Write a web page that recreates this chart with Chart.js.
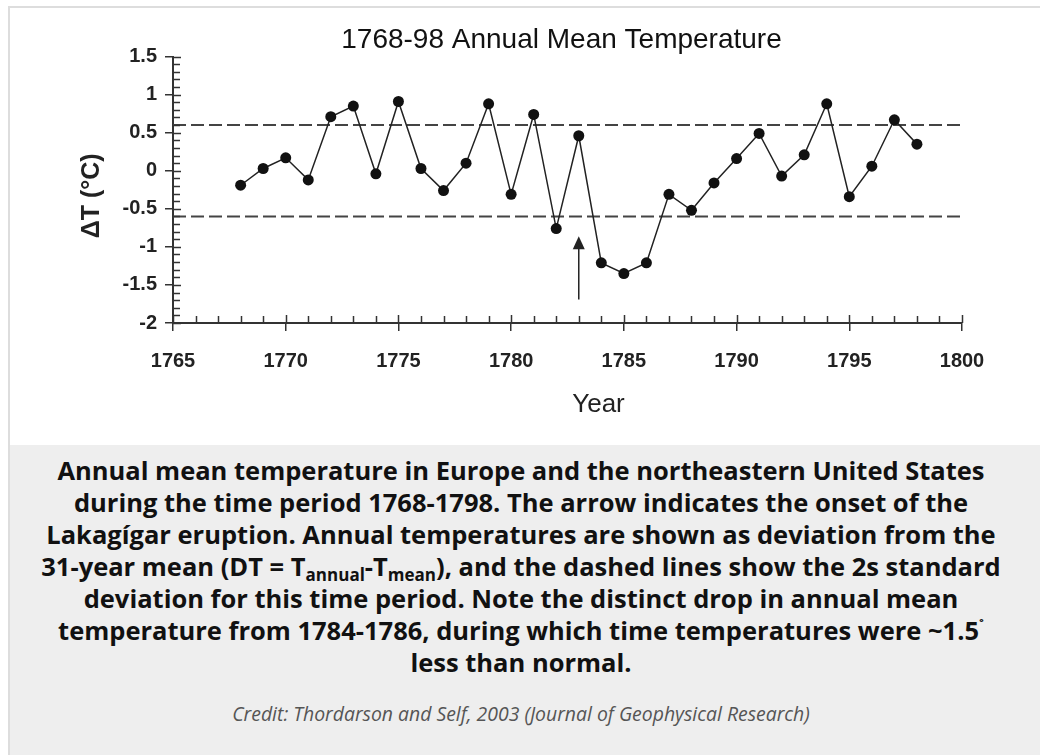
<!DOCTYPE html>
<html>
<head>
<meta charset="utf-8">
<title>1768-98 Annual Mean Temperature</title>
<script src="https://cdn.jsdelivr.net/npm/chart.js@4.4.0/dist/chart.umd.min.js"></script>
<style>
  html, body { margin: 0; padding: 0; background: #fff; overflow: hidden; }
  body { width: 1040px; height: 755px; position: relative; }
  #figure { position: absolute; left: 8px; top: 6px; width: 1100px; height: 800px;
            border-left: 2px solid #dddddd; border-top: 2px solid #dddddd; }
  #tempChart { position: absolute; left: 0; top: 0; }
  #caption { position: absolute; left: 0; top: 437px; width: 1100px; height: 400px; background: #eeeeee; }
  #captionText { position: absolute; left: 10px; width: 1002px; top: 9px; text-align: center;
                 font-family: "Open Sans", sans-serif; font-weight: bold; font-size: 25.5px;
                 line-height: 32px; color: #111; }
  #captionText sub { font-size: 17px; line-height: 0; vertical-align: -5px; }
  #captionText sup { font-size: 15px; line-height: 0; vertical-align: 9px; }
  #credit { position: absolute; left: 10px; width: 1002px; top: 255px; text-align: center;
            font-family: "Open Sans", sans-serif; font-style: italic; font-size: 19.4px; color: #555; }
</style>
</head>
<body>
<div id="figure">
  <canvas id="tempChart" width="1030" height="437"></canvas>
  <div id="caption">
    <div id="captionText">
      Annual mean temperature in Europe and the northeastern United States<br>
      during the time period 1768-1798. The arrow indicates the onset of the<br>
      Lakagígar eruption. Annual temperatures are shown as deviation from the<br>
      31-year mean (DT = T<sub>annual</sub>-T<sub>mean</sub>), and the dashed lines show the 2s standard<br>
      deviation for this time period. Note the distinct drop in annual mean<br>
      temperature from 1784-1786, during which time temperatures were ~1.5<sup>˚</sup><br>
      less than normal.
    </div>
    <div id="credit">Credit: Thordarson and Self, 2003 (Journal of Geophysical Research)</div>
  </div>
</div>
<script>
// data
const years = [1768, 1769, 1770, 1771, 1772, 1773, 1774, 1775, 1776, 1777,
               1778, 1779, 1780, 1781, 1782, 1783, 1784, 1785, 1786, 1787,
               1788, 1789, 1790, 1791, 1792, 1793, 1794, 1795, 1796, 1797, 1798];
const deltaT = [-0.19, 0.03, 0.17, -0.12, 0.71, 0.85, -0.04, 0.91, 0.03, -0.26,
                0.10, 0.88, -0.31, 0.74, -0.76, 0.46, -1.21, -1.35, -1.21, -0.31,
                -0.52, -0.16, 0.16, 0.49, -0.07, 0.21, 0.88, -0.34, 0.06, 0.67, 0.35];

// 2 sigma lines
const sigmaLevels = [0.6, -0.6];
const sigmaSpan = [1765, 1800];

// eruption arrow
const arrowYear = 1783;
const arrowFrom = -1.69;
const arrowTo = -0.86;

const xTickValues = [1765, 1770, 1775, 1780, 1785, 1790, 1795, 1800];
const xTickLabels = ["1765", "1770", "1775", "1780", "1785", "1790", "1795", "1800"];
const yTickValues = [-2, -1.5, -1, -0.5, 0, 0.5, 1, 1.5];
const yTickLabels = ["-2", "-1.5", "-1", "-0.5", "0", "0.5", "1", "1.5"];

const fontFamily = '"Liberation Sans", Arial, Helvetica, sans-serif';
const ink = "#222";

Chart.defaults.font.family = fontFamily;
Chart.defaults.color = ink;

// inner tick marks, arrow, title and axis titles
const axisDecor = {
    id: "axisDecor",
    afterDraw(chart) {
        const { ctx, chartArea, scales } = chart;
        const x = scales.x, y = scales.y;
        ctx.save();
        ctx.strokeStyle = "#333";
        ctx.lineWidth = 1.5;

        for (let i = -20; i <= 15; i++) {
            const py = Math.round(y.getPixelForValue(i / 10)) + 0.5;
            const len = i % 5 === 0 ? 8 : 7;
            ctx.beginPath();
            ctx.moveTo(chartArea.left, py);
            ctx.lineTo(chartArea.left + len, py);
            ctx.stroke();
        }
        for (let yr = sigmaSpan[0]; yr <= sigmaSpan[1]; yr++) {
            const px = Math.round(x.getPixelForValue(yr)) + 0.5;
            const len = yr % 5 === 0 ? 8 : 7;
            ctx.beginPath();
            ctx.moveTo(px, chartArea.bottom);
            ctx.lineTo(px, chartArea.bottom - len);
            ctx.stroke();
        }

        // arrow
        const ax = x.getPixelForValue(arrowYear);
        const aBase = y.getPixelForValue(arrowFrom);
        const aTip = y.getPixelForValue(arrowTo);
        ctx.strokeStyle = ink;
        ctx.fillStyle = ink;
        ctx.lineWidth = 1.5;
        ctx.beginPath();
        ctx.moveTo(ax, aBase);
        ctx.lineTo(ax, aTip + 10);
        ctx.stroke();
        ctx.beginPath();
        ctx.moveTo(ax, aTip);
        ctx.lineTo(ax - 6, aTip + 13);
        ctx.lineTo(ax + 6, aTip + 13);
        ctx.closePath();
        ctx.fill();

        // titles
        ctx.fillStyle = "#111";
        ctx.textAlign = "center";
        ctx.textBaseline = "middle";
        ctx.font = "28px " + fontFamily;
        ctx.fillText("1768-98 Annual Mean Temperature", (chartArea.left + chartArea.right) / 2 - 6, 32);

        ctx.fillStyle = ink;
        ctx.font = "26px " + fontFamily;
        ctx.fillText("Year", (chartArea.left + chartArea.right) / 2 + 31, chartArea.bottom + 82);

        ctx.translate(chartArea.left - 81, (chartArea.top + chartArea.bottom) / 2 + 6);
        ctx.rotate(-Math.PI / 2);
        ctx.font = "bold 25px " + fontFamily;
        ctx.fillText("\u0394T (\u00B0C)", 0, 0);
        ctx.restore();
    }
};

const mainSeries = years.map((yr, i) => ({ x: yr, y: deltaT[i] }));
const sigmaSets = sigmaLevels.map(level => ({
    data: sigmaSpan.map(yr => ({ x: yr, y: level })),
    borderColor: "#444",
    borderWidth: 2,
    borderDash: [13, 5],
    pointRadius: 0,
    fill: false
}));

new Chart(document.getElementById("tempChart"), {
    type: "line",
    data: {
        datasets: [
            {
                data: mainSeries,
                borderColor: ink,
                borderWidth: 1.5,
                pointRadius: 5.5,
                pointBackgroundColor: "#111",
                pointBorderColor: "#111",
                pointBorderWidth: 0,
                tension: 0,
                fill: false
            },
            ...sigmaSets
        ]
    },
    options: {
        responsive: false,
        animation: false,
        devicePixelRatio: 1,
        layout: { padding: { left: 0, right: 78, top: 48.6, bottom: 0 } },
        plugins: {
            legend: { display: false },
            tooltip: { enabled: false },
            title: { display: false }
        },
        scales: {
            x: {
                type: "linear",
                min: 1765,
                max: 1800,
                afterBuildTicks: scale => { scale.ticks = xTickValues.map(v => ({ value: v })); },
                afterFit: scale => { scale.height = 122; },
                ticks: {
                    callback: (v) => xTickLabels[xTickValues.indexOf(v)],
                    font: { size: 20, weight: "bold" },
                    color: ink,
                    padding: 18,
                    maxRotation: 0
                },
                grid: { drawOnChartArea: false, tickLength: 8, color: "#333", lineWidth: 1.5 },
                border: { color: "#333", width: 2 }
            },
            y: {
                type: "linear",
                min: -2,
                max: 1.5,
                afterBuildTicks: scale => { scale.ticks = yTickValues.map(v => ({ value: v })); },
                afterFit: scale => { scale.width = 163; },
                ticks: {
                    callback: (v) => yTickLabels[yTickValues.indexOf(v)],
                    font: { size: 20, weight: "bold" },
                    color: ink,
                    padding: 8
                },
                grid: { drawOnChartArea: false, tickLength: 8, color: "#333", lineWidth: 1.5 },
                border: { color: "#333", width: 2 }
            }
        }
    },
    plugins: [axisDecor]
});
</script>
</body>
</html>
